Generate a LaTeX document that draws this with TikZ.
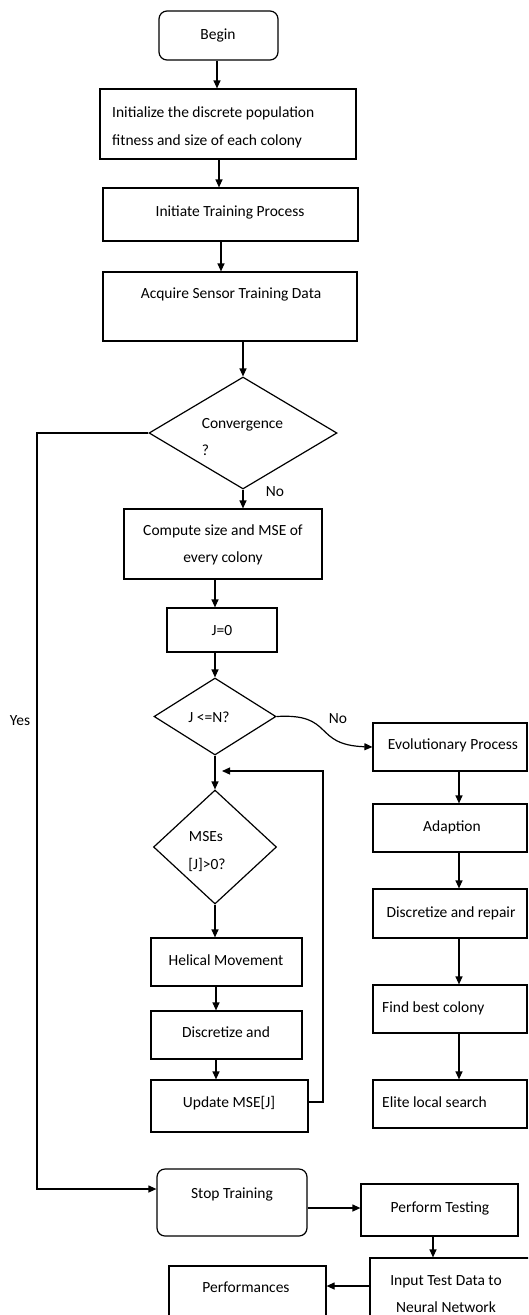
\documentclass[tikz,border=0pt]{standalone}
\usepackage{fontspec}
\setmainfont{Carlito}
\usetikzlibrary{shapes.geometric,arrows.meta}
\newcommand\mkbox[6]{\node[#1, minimum width={(#5)-(#3)}, minimum height={(#6)-(#4)}] (#2) at ({((#3)+(#5))/2},{((#4)+(#6))/2}) {};}
\begin{document}
\begin{tikzpicture}[x=1pt,y=-1pt,
 box/.style={draw, line width=1.2pt, inner sep=0pt, rectangle},
 rbox/.style={box, rounded corners=8pt},
 dia/.style={draw, diamond, line width=1.2pt, inner sep=0pt},
 lbl/.style={anchor=base, inner sep=0pt, font=\fontsize{15.5}{18}\selectfont},
 lbll/.style={lbl, anchor=base west},
 arr/.style={line width=1.2pt, -{Triangle[length=8pt,width=7pt]}},
 ln/.style={line width=1.2pt}]
\clip (0,0) rectangle (528,1315);
\useasboundingbox (0,0) rectangle (528,1315);
% boxes
\mkbox{rbox}{begin}{159}{11}{278}{60}
\mkbox{box}{init}{100}{89}{356}{159}
\mkbox{box}{initiate}{103}{188}{358}{241}
\mkbox{box}{acquire}{103}{272}{357}{341}
\node[dia, minimum width=188, minimum height=112] (conv) at (243,433) {};
\mkbox{box}{compute}{124}{509}{322}{579}
\mkbox{box}{jzero}{167}{608}{277}{652}
\node[dia, minimum width=122, minimum height=77] (jn) at (215,716.5) {};
\node[dia, minimum width=123, minimum height=114] (mses) at (215,847) {};
\mkbox{box}{helical}{151}{938}{302}{986}
\mkbox{box}{disc}{151}{1011}{302}{1059}
\mkbox{box}{update}{151}{1080}{308}{1132}
\mkbox{box}{evol}{373}{723}{527}{771}
\mkbox{box}{adapt}{373}{804}{527}{852}
\mkbox{box}{repair}{373}{889}{527}{938}
\mkbox{box}{findbest}{373}{985}{527}{1033}
\mkbox{box}{elite}{373}{1080}{527}{1128}
\mkbox{rbox}{stop}{157}{1169}{307}{1236}
\mkbox{box}{perform}{361}{1184}{518}{1236}
\mkbox{box}{input}{370}{1258}{532}{1335}
\mkbox{box}{perf}{169}{1266}{326}{1335}
% texts
\node[lbl] (t1) at (218,39) {Begin};
\node[lbll] (t2) at (112,117) {Initialize the discrete population};
\node[lbll] (t3) at (112,145) {fitness and size of each colony};
\node[lbl] (t4) at (230,216) {Initiate Training Process};
\node[lbl] (t5) at (231,298) {Acquire Sensor Training Data};
\node[lbl] (t6) at (242.5,428) {Convergence};
\node[lbl] (t7) at (205.5,455) {?};
\node[lbl] (t8) at (275,496) {No};
\node[lbl] (t9) at (223,535) {Compute size and MSE of};
\node[lbl] (t10) at (223,562) {every colony};
\node[lbl] (t11) at (222,635) {J=0};
\node[lbl] (t12) at (209,722) {J <=N?};
\node[lbl] (t13) at (338,723) {No};
\node[lbl] (t14) at (453,749) {Evolutionary Process};
\node[lbl] (t15) at (206,841) {MSEs};
\node[lbl] (t16) at (207,869) {[J]>0?};
\node[lbl] (t17) at (452,831) {Adaption};
\node[lbl] (t18) at (451,917) {Discretize and repair};
\node[lbl] (t19) at (226,965) {Helical Movement};
\node[lbl] (t20) at (226,1037) {Discretize and};
\node[lbl] (t21) at (229,1107) {Update MSE[J]};
\node[lbll] (t22) at (382,1012) {Find best colony};
\node[lbll] (t23) at (382,1107) {Elite local search};
\node[lbl] (t24) at (232,1198) {Stop Training};
\node[lbl] (t25) at (440,1212) {Perform Testing};
\node[lbl] (t26) at (446,1285) {Input Test Data to};
\node[lbl] (t27) at (446,1312) {Neural Network};
\node[lbl] (t28) at (246,1292) {Performances};
\node[lbl] (t29) at (20,725) {Yes};
% connectors
\draw[arr] (begin.south -| 217,0) -- (init.north -| 217,0);
\draw[arr] (init.south -| 219,0) -- (initiate.north -| 219,0);
\draw[arr] (initiate.south -| 221,0) -- (acquire.north -| 221,0);
\draw[arr] (acquire.south -| conv.north) -- (conv.north);
\draw[arr] (conv.south) -- (compute.north -| conv.south);
\draw[arr] (compute.south -| 215,0) -- (jzero.north -| 215,0);
\draw[arr] (jzero.south -| jn.north) -- (jn.north);
\draw[arr] (jn.south) -- (mses.north);
\draw[arr] (mses.south) -- (helical.north -| mses.south);
\draw[arr] (helical.south -| 216,0) -- (disc.north -| 216,0);
\draw[arr] (disc.south -| 216,0) -- (update.north -| 216,0);
\coordinate (fb1) at (323,1102);
\coordinate (fb2) at (323,771);
\coordinate (fb3) at (222,771);
\draw[arr] (update.east |- fb1) -- (fb1) -- (fb2) -- (fb3);
\coordinate (yesc) at (37,1189);
\draw[arr] (conv.west) -| (yesc) -- (stop.west |- yesc);
\draw[arr] (jn.east) .. controls (335,713) and (312,745) .. (evol.west);
\draw[arr] (evol.south -| 459,0) -- (adapt.north -| 459,0);
\draw[arr] (adapt.south -| 459,0) -- (repair.north -| 459,0);
\draw[arr] (repair.south -| 459,0) -- (findbest.north -| 459,0);
\draw[arr] (findbest.south -| 459,0) -- (elite.north -| 459,0);
\draw[arr] (stop.east |- 0,1208) -- (perform.west |- 0,1208);
\draw[arr] (perform.south -| 433,0) -- (input.north -| 433,0);
\draw[arr] (input.west |- 0,1286) -- (perf.east |- 0,1286);
\end{tikzpicture}
\end{document}
